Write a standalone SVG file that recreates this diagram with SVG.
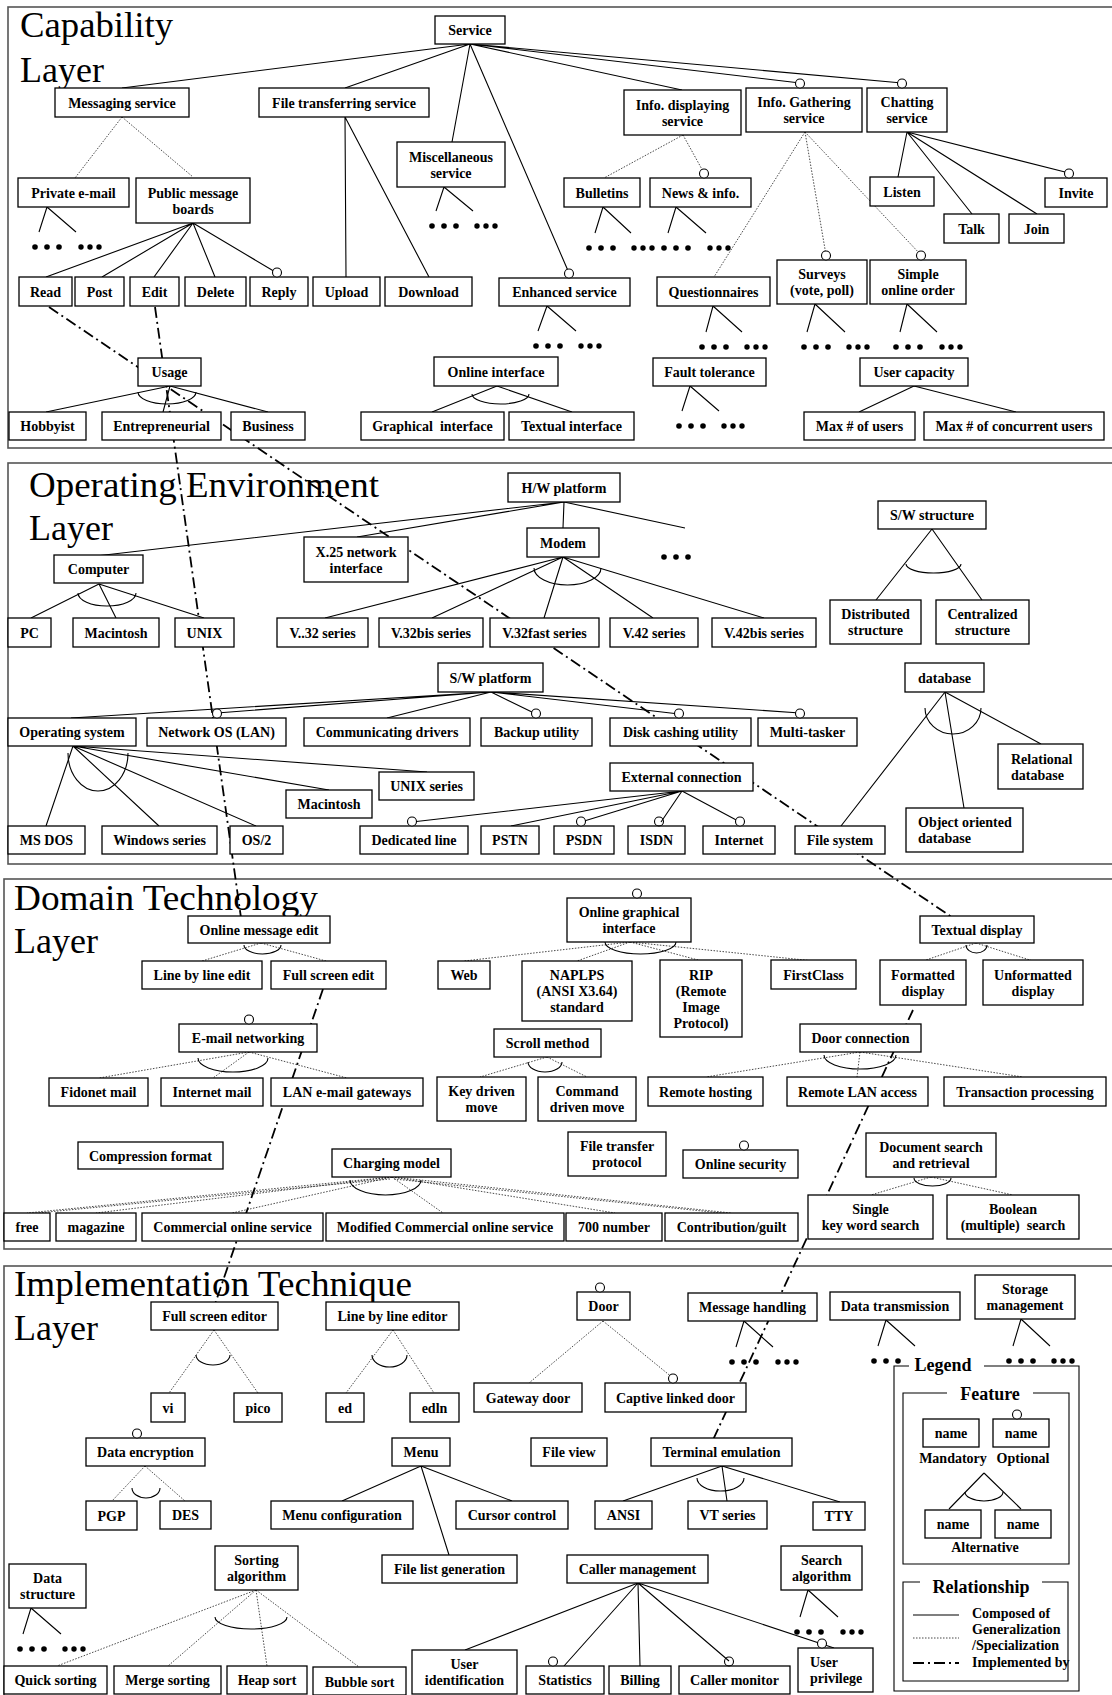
<svg xmlns="http://www.w3.org/2000/svg" width="1112" height="1695" viewBox="0 0 1112 1695">
<style>
.f{fill:none;stroke:#555;stroke-width:1.6}
.b{fill:#fff;stroke:#000;stroke-width:1.3}
text{font-family:"Liberation Serif","Times New Roman",serif;font-weight:bold;font-size:14px;text-anchor:middle;fill:#000}
.t{font-weight:normal;font-size:36px;text-anchor:start}
.l{text-anchor:start}
.h{font-size:18px}
.s{stroke:#000;stroke-width:1.1;fill:none}
.d{stroke:#333;stroke-width:0.9;stroke-dasharray:1.5 1.5;fill:none}
.i{stroke:#000;stroke-width:1.8;stroke-dasharray:11 4 2 4;fill:none}
.a{stroke:#000;stroke-width:1.1;fill:none}
.o{fill:#fff;stroke:#000;stroke-width:1.1}
.x{fill:none;stroke:#000;stroke-width:1.1}
</style>
<defs>
<g id="d1"><circle cx="0" cy="0" r="2.8"/><circle cx="12" cy="0" r="2.8"/><circle cx="24" cy="0" r="2.8"/></g>
<g id="d2"><circle cx="0" cy="0" r="2.7"/><circle cx="9" cy="0" r="2.7"/><circle cx="18" cy="0" r="2.7"/></g>
</defs>
<rect width="1112" height="1695" fill="#fff"/>

<g id="frames">
<rect class="f" x="8" y="7" width="1110" height="441"/>
<rect class="f" x="8" y="463" width="1110" height="401"/>
<rect class="f" x="4" y="879" width="1114" height="370"/>
<rect class="f" x="4" y="1266" width="1114" height="440"/>
<text class="t" x="20" y="37" textLength="153" lengthAdjust="spacingAndGlyphs">Capability</text>
<text class="t" x="20" y="82">Layer</text>
<text class="t" x="29" y="497" textLength="350" lengthAdjust="spacingAndGlyphs">Operating Environment</text>
<text class="t" x="29" y="540">Layer</text>
<text class="t" x="14" y="910" textLength="304" lengthAdjust="spacingAndGlyphs">Domain Technology</text>
<text class="t" x="14" y="953">Layer</text>
<text class="t" x="14" y="1296" textLength="398" lengthAdjust="spacingAndGlyphs">Implementation Technique</text>
<text class="t" x="14" y="1340">Layer</text>
</g>

<g id="connectors">
<!-- capability solid -->
<path class="s" d="M470,44L122,88M470,44L345,88M470,44L452,142M470,44L569,273M470,44L682,90M470,44L800,83M470,44L902,83"/>
<path class="s" d="M193,223L46,277M193,223L102,277M193,223L154,277M193,223L215,277M193,223L277,273"/>
<path class="s" d="M345,117L346,277M345,117L429,277"/>
<path class="s" d="M907,132L898,177M907,132L972,214M907,132L1037,214M907,132L1069,173"/>
<path class="s" d="M170,386L46,412M170,386L163,412M170,386L268,412"/>
<path class="s" d="M497,386L432,412M497,386L572,412"/>
<path class="s" d="M914,386L859,412M914,386L1016,412"/>
<path class="s" d="M47,207L39,232M47,207L76,232M444,187L436,211M444,187L473,211M547,306L538,331M547,306L576,331M603,207L595,233M603,207L631,233M676,207L668,233M676,207L706,233M713,306L706,332M713,306L742,332M815,304L807,332M815,304L845,332M907,304L900,332M907,304L937,332M690,386L682,411M690,386L719,411"/>
<!-- capability dotted -->
<path class="d" d="M122,117L75,178M122,117L193,177"/>
<path class="d" d="M683,135L604,178M683,135L704,173"/>
<path class="d" d="M805,132L714,277M805,132L826,255M805,132L921,255"/>
<!-- arcs capability -->
<path class="a" d="M138,392A29,12 0 0 0 196,392"/>
<path class="a" d="M472,394A28.5,10 0 0 0 529,394"/>
<!-- OE -->
<path class="s" d="M564,502L96,556M564,502L357,537M564,502L563,528M564,502L685,528"/>
<path class="s" d="M563,557L325,618M563,557L432,618M563,557L544,618M563,557L653,618M563,557L764,618"/>
<path class="s" d="M99,584L31,618M99,584L116,618M99,584L204,618"/>
<path class="s" d="M932,529L876,600M932,529L982,600"/>
<path class="s" d="M945,692L841,826M945,692L964,808M945,692L1041,744"/>
<path class="s" d="M491,692L71,718M491,692L217,713M491,692L387,718M491,692L536,714M491,692L679,714M491,692L800,713"/>
<path class="s" d="M73,746L46,826M73,746L159,826M73,746L256,826M73,746L329,790M73,746L427,772"/>
<path class="s" d="M682,791L412,822M682,791L511,826M682,791L581,822M682,791L661,822M682,791L740,822"/>
<path class="a" d="M78,593A29,13 0 0 0 136,593"/>
<path class="a" d="M534,568A33.5,17 0 0 0 601,568"/>
<path class="a" d="M906,564A27.5,9 0 0 0 961,564"/>
<path class="a" d="M925,708A28,26 0 0 0 981,708"/>
<path class="a" d="M68,753A30,38 0 0 0 128,753"/>
<!-- Domain -->
<path class="d" d="M261,943L202,961M261,943L326,961"/>
<path class="d" d="M249,1052L99,1078M249,1052L213,1078M249,1052L347,1078"/>
<path class="d" d="M392,1177L27,1213M392,1177L96,1213M392,1177L232,1213M392,1177L443,1213M392,1177L615,1213M392,1177L731,1213M390,1179L27,1214M394,1179L731,1214"/>
<path class="d" d="M630,942L464,961M630,942L577,961M630,942L702,961M630,942L814,961"/>
<path class="d" d="M976,943L923,961M976,943L1033,961"/>
<path class="d" d="M547,1057L480,1077M547,1057L587,1077"/>
<path class="d" d="M860,1052L706,1077M860,1052L857,1077M860,1052L1023,1077"/>
<path class="d" d="M931,1177L871,1195M931,1177L1013,1195"/>
<path class="a" d="M244,945A18.5,9 0 0 0 281,945"/>
<path class="a" d="M198,1058A35,14 0 0 0 268,1058"/>
<path class="a" d="M350,1180A35.5,15 0 0 0 421,1180"/>
<path class="a" d="M605,942A35.5,12 0 0 0 676,942"/>
<path class="a" d="M966,945A10.5,8 0 0 0 987,945"/>
<path class="a" d="M528,1062A17,10 0 0 0 562,1062"/>
<path class="a" d="M824,1055A36,14 0 0 0 896,1055"/>
<path class="a" d="M914,1178A18.5,8 0 0 0 951,1178"/>
<!-- Implementation -->
<path class="d" d="M214,1330L169,1393M214,1330L258,1393"/>
<path class="d" d="M393,1330L346,1393M393,1330L434,1393"/>
<path class="d" d="M145,1466L112,1501M145,1466L185,1501"/>
<path class="s" d="M421,1466L342,1501M421,1466L449,1555M421,1466L512,1501"/>
<path class="d" d="M603,1321L529,1383M603,1321L673,1378"/>
<path class="s" d="M722,1466L623,1501M722,1466L727,1501M722,1466L840,1502"/>
<path class="d" d="M256,1590L57,1666M256,1590L168,1666M256,1590L267,1666M256,1590L359,1667"/>
<path class="s" d="M638,1583L465,1650M638,1583L564,1666M638,1583L640,1666M638,1583L729,1661M638,1583L834,1648"/>
<path class="s" d="M744,1321L736,1347M744,1321L773,1347M886,1320L878,1346M886,1320L915,1346M1021,1319L1013,1346M1021,1319L1050,1346M808,1590L800,1617M808,1590L838,1617M31,1608L23,1634M31,1608L61,1634"/>
<path class="a" d="M196,1355A17,10 0 0 0 230,1355"/>
<path class="a" d="M372,1355A17.5,12 0 0 0 407,1355"/>
<path class="a" d="M132,1488A14,10 0 0 0 160,1488"/>
<path class="a" d="M697,1478A23.5,13 0 0 0 744,1478"/>
<path class="a" d="M215,1617A36,12 0 0 0 287,1617"/>
<!-- implemented by -->
<path class="i" d="M49,307L959,922"/>
<path class="i" d="M155,307L243,932"/>
<path class="i" d="M323,989L214,1307"/>
<path class="i" d="M913,1010L712,1442"/>
</g>

<g id="dots">
<use href="#d1" x="35" y="247"/><use href="#d2" x="81" y="247"/>
<use href="#d1" x="432" y="226"/><use href="#d2" x="477" y="226"/>
<use href="#d1" x="536" y="346"/><use href="#d2" x="581" y="346"/>
<use href="#d1" x="589" y="248"/><use href="#d2" x="634" y="248"/>
<use href="#d1" x="664" y="248"/><use href="#d2" x="710" y="248"/>
<use href="#d1" x="702" y="347"/><use href="#d2" x="747" y="347"/>
<use href="#d1" x="804" y="347"/><use href="#d2" x="849" y="347"/>
<use href="#d1" x="896" y="347"/><use href="#d2" x="942" y="347"/>
<use href="#d1" x="679" y="426"/><use href="#d2" x="724" y="426"/>
<use href="#d1" x="664" y="557"/>
<use href="#d1" x="732" y="1362"/><use href="#d2" x="778" y="1362"/>
<use href="#d1" x="874" y="1361"/>
<use href="#d1" x="1009" y="1361"/><use href="#d2" x="1054" y="1361"/>
<use href="#d1" x="797" y="1632"/><use href="#d2" x="843" y="1632"/>
<use href="#d1" x="20" y="1649"/><use href="#d2" x="65" y="1649"/>
</g>

<!-- Capability nodes -->
<g id="service"><rect class="b" x="435" y="16" width="70" height="28"/><text x="470" y="35">Service</text></g>
<g id="messaging"><rect class="b" x="55" y="88" width="134" height="29"/><text x="122" y="107.5">Messaging service</text></g>
<g id="filetransferring"><rect class="b" x="259" y="88" width="170" height="29"/><text x="344" y="107.5">File transferring service</text></g>
<g id="misc"><rect class="b" x="397" y="142" width="108" height="45"/><text x="451" y="161.5">Miscellaneous</text><text x="451" y="177.5">service</text></g>
<g id="infodisplay"><rect class="b" x="624" y="90" width="117" height="45"/><text x="682.5" y="109.5">Info. displaying</text><text x="682.5" y="125.5">service</text></g>
<g id="infogather"><rect class="b" x="746" y="88" width="116" height="44"/><text x="804" y="107">Info. Gathering</text><text x="804" y="123">service</text><circle class="o" cx="800" cy="83.5" r="4.5"/></g>
<g id="chatting"><rect class="b" x="867" y="88" width="80" height="44"/><text x="907" y="107">Chatting</text><text x="907" y="123">service</text><circle class="o" cx="902" cy="83.5" r="4.5"/></g>
<g id="privatemail"><rect class="b" x="18" y="178" width="111" height="29"/><text x="73.5" y="197.5">Private e-mail</text></g>
<g id="publicboards"><rect class="b" x="136" y="178" width="114" height="45"/><text x="193" y="197.5">Public message</text><text x="193" y="213.5">boards</text></g>
<g id="bulletins"><rect class="b" x="564" y="178" width="76" height="29"/><text x="602" y="197.5">Bulletins</text></g>
<g id="news"><rect class="b" x="650" y="178" width="101" height="29"/><text x="700.5" y="197.5">News &amp; info.</text><circle class="o" cx="704" cy="173.5" r="4.5"/></g>
<g id="listen"><rect class="b" x="870" y="177" width="64" height="29"/><text x="902" y="196.5">Listen</text></g>
<g id="invite"><rect class="b" x="1045" y="178" width="62" height="29"/><text x="1076" y="197.5">Invite</text><circle class="o" cx="1069" cy="173.5" r="4.5"/></g>
<g id="talk"><rect class="b" x="944" y="214" width="55" height="29"/><text x="971.5" y="233.5">Talk</text></g>
<g id="join"><rect class="b" x="1009" y="214" width="55" height="29"/><text x="1036.5" y="233.5">Join</text></g>
<g id="read"><rect class="b" x="19" y="277" width="53" height="29"/><text x="45.5" y="296.5">Read</text></g>
<g id="post"><rect class="b" x="75" y="277" width="49" height="29"/><text x="99.5" y="296.5">Post</text></g>
<g id="edit"><rect class="b" x="130" y="277" width="49" height="29"/><text x="154.5" y="296.5">Edit</text></g>
<g id="delete"><rect class="b" x="185" y="277" width="61" height="29"/><text x="215.5" y="296.5">Delete</text></g>
<g id="reply"><rect class="b" x="250" y="277" width="58" height="29"/><text x="279" y="296.5">Reply</text><circle class="o" cx="277" cy="272.5" r="4.5"/></g>
<g id="upload"><rect class="b" x="313" y="277" width="67" height="29"/><text x="346.5" y="296.5">Upload</text></g>
<g id="download"><rect class="b" x="385" y="277" width="87" height="29"/><text x="428.5" y="296.5">Download</text></g>
<g id="enhanced"><rect class="b" x="499" y="278" width="131" height="28"/><text x="564.5" y="297">Enhanced service</text><circle class="o" cx="569" cy="273.5" r="4.5"/></g>
<g id="questionnaires"><rect class="b" x="657" y="277" width="113" height="29"/><text x="713.5" y="296.5">Questionnaires</text></g>
<g id="surveys"><rect class="b" x="777" y="260" width="90" height="44"/><text x="822" y="279">Surveys</text><text x="822" y="295">(vote, poll)</text><circle class="o" cx="826" cy="255.5" r="4.5"/></g>
<g id="simpleorder"><rect class="b" x="870" y="260" width="96" height="44"/><text x="918" y="279">Simple</text><text x="918" y="295">online order</text><circle class="o" cx="921" cy="255.5" r="4.5"/></g>
<g id="usage"><rect class="b" x="138" y="358" width="63" height="28"/><text x="169.5" y="377">Usage</text></g>
<g id="onlineinterface"><rect class="b" x="434" y="357" width="124" height="29"/><text x="496" y="376.5">Online interface</text></g>
<g id="faulttolerance"><rect class="b" x="653" y="358" width="113" height="28"/><text x="709.5" y="377">Fault tolerance</text></g>
<g id="usercapacity"><rect class="b" x="860" y="358" width="108" height="28"/><text x="914" y="377">User capacity</text></g>
<g id="hobbyist"><rect class="b" x="9" y="412" width="77" height="28"/><text x="47.5" y="431">Hobbyist</text></g>
<g id="entrepreneurial"><rect class="b" x="102" y="412" width="119" height="28"/><text x="161.5" y="431">Entrepreneurial</text></g>
<g id="business"><rect class="b" x="231" y="412" width="74" height="28"/><text x="268" y="431">Business</text></g>
<g id="graphicalinterface"><rect class="b" x="361" y="412" width="143" height="28"/><text x="432.5" y="431" xml:space="preserve">Graphical  interface</text></g>
<g id="textualinterface"><rect class="b" x="509" y="412" width="125" height="28"/><text x="571.5" y="431">Textual interface</text></g>
<g id="maxusers"><rect class="b" x="804" y="412" width="111" height="28"/><text x="859.5" y="431">Max # of users</text></g>
<g id="maxconcurrent"><rect class="b" x="924" y="412" width="180" height="28"/><text x="1014" y="431">Max # of concurrent users</text></g>

<!-- Operating environment nodes -->
<g id="hwplatform"><rect class="b" x="508" y="473" width="112" height="29"/><text x="564" y="492.5">H/W platform</text></g>
<g id="x25"><rect class="b" x="304" y="537" width="104" height="45"/><text x="356" y="556.5">X.25 network</text><text x="356" y="572.5">interface</text></g>
<g id="modem"><rect class="b" x="527" y="528" width="72" height="29"/><text x="563" y="547.5">Modem</text></g>
<g id="computer"><rect class="b" x="54" y="555" width="89" height="28"/><text x="98.5" y="574">Computer</text></g>
<g id="swstructure"><rect class="b" x="878" y="501" width="108" height="28"/><text x="932" y="520">S/W structure</text></g>
<g id="pc"><rect class="b" x="8" y="618" width="43" height="29"/><text x="29.5" y="637.5">PC</text></g>
<g id="macintosh1"><rect class="b" x="73" y="618" width="86" height="29"/><text x="116" y="637.5">Macintosh</text></g>
<g id="unix"><rect class="b" x="175" y="618" width="59" height="29"/><text x="204.5" y="637.5">UNIX</text></g>
<g id="v32"><rect class="b" x="277" y="618" width="91" height="29"/><text x="322.5" y="637.5">V..32 series</text></g>
<g id="v32bis"><rect class="b" x="379" y="618" width="104" height="29"/><text x="431" y="637.5">V.32bis series</text></g>
<g id="v32fast"><rect class="b" x="490" y="618" width="109" height="29"/><text x="544.5" y="637.5">V.32fast series</text></g>
<g id="v42"><rect class="b" x="610" y="618" width="88" height="29"/><text x="654" y="637.5">V.42 series</text></g>
<g id="v42bis"><rect class="b" x="712" y="618" width="104" height="29"/><text x="764" y="637.5">V.42bis series</text></g>
<g id="distributed"><rect class="b" x="830" y="600" width="91" height="44"/><text x="875.5" y="619">Distributed</text><text x="875.5" y="635">structure</text></g>
<g id="centralized"><rect class="b" x="936" y="600" width="93" height="44"/><text x="982.5" y="619">Centralized</text><text x="982.5" y="635">structure</text></g>
<g id="swplatform"><rect class="b" x="438" y="663" width="105" height="29"/><text x="490.5" y="682.5">S/W platform</text></g>
<g id="database"><rect class="b" x="905" y="663" width="79" height="29"/><text x="944.5" y="682.5">database</text></g>
<g id="os"><rect class="b" x="8" y="718" width="128" height="28"/><text x="72" y="737">Operating system</text></g>
<g id="networkos"><rect class="b" x="147" y="718" width="139" height="28"/><text x="216.5" y="737">Network OS (LAN)</text><circle class="o" cx="217" cy="713.5" r="4.5"/></g>
<g id="commdrivers"><rect class="b" x="304" y="718" width="166" height="28"/><text x="387" y="737">Communicating drivers</text></g>
<g id="backup"><rect class="b" x="481" y="718" width="111" height="28"/><text x="536.5" y="737">Backup utility</text><circle class="o" cx="536" cy="713.5" r="4.5"/></g>
<g id="diskcash"><rect class="b" x="610" y="718" width="141" height="28"/><text x="680.5" y="737">Disk cashing utility</text><circle class="o" cx="679" cy="713.5" r="4.5"/></g>
<g id="multitasker"><rect class="b" x="758" y="718" width="99" height="28"/><text x="807.5" y="737">Multi-tasker</text><circle class="o" cx="800" cy="713.5" r="4.5"/></g>
<g id="relational"><rect class="b" x="998" y="744" width="85" height="45"/><text class="l" x="1011" y="763.5">Relational</text><text class="l" x="1011" y="779.5">database</text></g>
<g id="extconn"><rect class="b" x="610" y="763" width="143" height="28"/><text x="681.5" y="782">External connection</text></g>
<g id="unixseries"><rect class="b" x="379" y="772" width="95" height="28"/><text x="426.5" y="791">UNIX series</text></g>
<g id="macintosh2"><rect class="b" x="286" y="790" width="86" height="28"/><text x="329" y="809">Macintosh</text></g>
<g id="oodb"><rect class="b" x="906" y="808" width="117" height="44"/><text class="l" x="918" y="827">Object oriented</text><text class="l" x="918" y="843">database</text></g>
<g id="msdos"><rect class="b" x="8" y="826" width="77" height="28"/><text x="46.5" y="845">MS DOS</text></g>
<g id="windows"><rect class="b" x="102" y="826" width="115" height="28"/><text x="159.5" y="845">Windows series</text></g>
<g id="os2"><rect class="b" x="230" y="826" width="53" height="28"/><text x="256.5" y="845">OS/2</text></g>
<g id="dedicated"><rect class="b" x="360" y="826" width="108" height="28"/><text x="414" y="845">Dedicated line</text><circle class="o" cx="412" cy="821.5" r="4.5"/></g>
<g id="pstn"><rect class="b" x="481" y="826" width="58" height="28"/><text x="510" y="845">PSTN</text></g>
<g id="psdn"><rect class="b" x="554" y="826" width="60" height="28"/><text x="584" y="845">PSDN</text><circle class="o" cx="581" cy="821.5" r="4.5"/></g>
<g id="isdn"><rect class="b" x="628" y="826" width="57" height="28"/><text x="656.5" y="845">ISDN</text><circle class="x" cx="659" cy="821.5" r="4.5"/></g>
<g id="internet"><rect class="b" x="703" y="826" width="72" height="28"/><text x="739" y="845">Internet</text><circle class="o" cx="740" cy="821.5" r="4.5"/></g>
<g id="filesystem"><rect class="b" x="795" y="826" width="90" height="28"/><text x="840" y="845">File system</text></g>

<!-- Domain technology nodes -->
<g id="onlinemsgedit"><rect class="b" x="188" y="916" width="142" height="27"/><text x="259" y="934.5">Online message edit</text></g>
<g id="onlinegraphical"><rect class="b" x="567" y="898" width="124" height="44"/><text x="629" y="917">Online graphical</text><text x="629" y="933">interface</text><circle class="o" cx="637" cy="893.5" r="4.5"/></g>
<g id="textualdisplay"><rect class="b" x="920" y="916" width="114" height="27"/><text x="977" y="934.5">Textual display</text></g>
<g id="linebylineedit"><rect class="b" x="142" y="961" width="120" height="28"/><text x="202" y="980">Line by line edit</text></g>
<g id="fullscreenedit"><rect class="b" x="271" y="961" width="115" height="28"/><text x="328.5" y="980">Full screen edit</text></g>
<g id="web"><rect class="b" x="438" y="961" width="52" height="28"/><text x="464" y="980">Web</text></g>
<g id="naplps"><rect class="b" x="522" y="961" width="110" height="60"/><text x="577" y="980">NAPLPS</text><text x="577" y="996">(ANSI X3.64)</text><text x="577" y="1012">standard</text></g>
<g id="rip"><rect class="b" x="660" y="960" width="82" height="77"/><text x="701" y="979.5">RIP</text><text x="701" y="995.5">(Remote</text><text x="701" y="1011.5">Image</text><text x="701" y="1027.5">Protocol)</text></g>
<g id="firstclass"><rect class="b" x="771" y="960" width="85" height="29"/><text x="813.5" y="979.5">FirstClass</text></g>
<g id="formatted"><rect class="b" x="880" y="960" width="86" height="45"/><text x="923" y="979.5">Formatted</text><text x="923" y="995.5">display</text></g>
<g id="unformatted"><rect class="b" x="983" y="960" width="100" height="45"/><text x="1033" y="979.5">Unformatted</text><text x="1033" y="995.5">display</text></g>
<g id="emailnet"><rect class="b" x="179" y="1024" width="138" height="28"/><text x="248" y="1043">E-mail networking</text><circle class="o" cx="249" cy="1019.5" r="4.5"/></g>
<g id="scroll"><rect class="b" x="494" y="1029" width="107" height="28"/><text x="547.5" y="1048">Scroll method</text></g>
<g id="doorconn"><rect class="b" x="800" y="1024" width="121" height="28"/><text x="860.5" y="1043">Door connection</text></g>
<g id="fidonet"><rect class="b" x="49" y="1078" width="99" height="28"/><text x="98.5" y="1097">Fidonet mail</text></g>
<g id="internetmail"><rect class="b" x="161" y="1078" width="102" height="28"/><text x="212" y="1097">Internet mail</text></g>
<g id="lanemail"><rect class="b" x="271" y="1078" width="152" height="28"/><text x="347" y="1097">LAN e-mail gateways</text></g>
<g id="keydriven"><rect class="b" x="437" y="1077" width="89" height="44"/><text x="481.5" y="1096">Key driven</text><text x="481.5" y="1112">move</text></g>
<g id="commanddriven"><rect class="b" x="538" y="1077" width="98" height="44"/><text x="587" y="1096">Command</text><text x="587" y="1112">driven move</text></g>
<g id="remotehosting"><rect class="b" x="648" y="1077" width="115" height="29"/><text x="705.5" y="1096.5">Remote hosting</text></g>
<g id="remotelan"><rect class="b" x="787" y="1077" width="141" height="29"/><text x="857.5" y="1096.5">Remote LAN access</text></g>
<g id="transaction"><rect class="b" x="944" y="1077" width="162" height="29"/><text x="1025" y="1096.5">Transaction processing</text></g>
<g id="compression"><rect class="b" x="78" y="1142" width="145" height="27"/><text x="150.5" y="1160.5">Compression format</text></g>
<g id="ftprotocol"><rect class="b" x="568" y="1132" width="98" height="44"/><text x="617" y="1151">File transfer</text><text x="617" y="1167">protocol</text></g>
<g id="charging"><rect class="b" x="332" y="1149" width="119" height="28"/><text x="391.5" y="1168">Charging model</text></g>
<g id="onlinesecurity"><rect class="b" x="683" y="1150" width="115" height="28"/><text x="740.5" y="1169">Online security</text><circle class="o" cx="744" cy="1145.5" r="4.5"/></g>
<g id="docsearch"><rect class="b" x="866" y="1133" width="130" height="44"/><text x="931" y="1152">Document search</text><text x="931" y="1168">and retrieval</text></g>
<g id="free"><rect class="b" x="4" y="1213" width="46" height="28"/><text x="27" y="1232">free</text></g>
<g id="magazine"><rect class="b" x="56" y="1213" width="80" height="28"/><text x="96" y="1232">magazine</text></g>
<g id="commercial"><rect class="b" x="142" y="1213" width="181" height="28"/><text x="232.5" y="1232">Commercial online service</text></g>
<g id="modified"><rect class="b" x="326" y="1213" width="238" height="28"/><text x="445" y="1232">Modified Commercial online service</text></g>
<g id="n700"><rect class="b" x="566" y="1213" width="96" height="28"/><text x="614" y="1232">700 number</text></g>
<g id="contribution"><rect class="b" x="665" y="1213" width="133" height="28"/><text x="731.5" y="1232">Contribution/guilt</text></g>
<g id="singlekey"><rect class="b" x="808" y="1195" width="125" height="44"/><text x="870.5" y="1214">Single</text><text x="870.5" y="1230">key word search</text></g>
<g id="boolean"><rect class="b" x="947" y="1195" width="132" height="44"/><text x="1013" y="1214">Boolean</text><text x="1013" y="1230" xml:space="preserve">(multiple)  search</text></g>

<!-- Implementation technique nodes -->
<g id="fullscreeneditor"><rect class="b" x="151" y="1302" width="127" height="28"/><text x="214.5" y="1321">Full screen editor</text></g>
<g id="linebylineeditor"><rect class="b" x="326" y="1302" width="133" height="28"/><text x="392.5" y="1321">Line by line editor</text></g>
<g id="door"><rect class="b" x="577" y="1292" width="53" height="28"/><text x="603.5" y="1311">Door</text><circle class="o" cx="600" cy="1287.5" r="4.5"/></g>
<g id="msghandling"><rect class="b" x="688" y="1293" width="129" height="28"/><text x="752.5" y="1312">Message handling</text></g>
<g id="datatransmission"><rect class="b" x="830" y="1292" width="130" height="28"/><text x="895" y="1311">Data transmission</text></g>
<g id="storage"><rect class="b" x="975" y="1275" width="100" height="44"/><text x="1025" y="1294">Storage</text><text x="1025" y="1310">management</text></g>
<g id="gatewaydoor"><rect class="b" x="474" y="1383" width="108" height="29"/><text x="528" y="1402.5">Gateway door</text></g>
<g id="captivedoor"><rect class="b" x="605" y="1383" width="141" height="29"/><text x="675.5" y="1402.5">Captive linked door</text><circle class="o" cx="673" cy="1378.5" r="4.5"/></g>
<g id="vi"><rect class="b" x="151" y="1393" width="34" height="29"/><text x="168" y="1412.5">vi</text></g>
<g id="pico"><rect class="b" x="234" y="1393" width="48" height="29"/><text x="258" y="1412.5">pico</text></g>
<g id="ed"><rect class="b" x="326" y="1393" width="38" height="29"/><text x="345" y="1412.5">ed</text></g>
<g id="edln"><rect class="b" x="410" y="1393" width="49" height="29"/><text x="434.5" y="1412.5">edln</text></g>
<g id="dataenc"><rect class="b" x="86" y="1438" width="119" height="28"/><text x="145.5" y="1457">Data encryption</text><circle class="o" cx="137" cy="1433.5" r="4.5"/></g>
<g id="menu"><rect class="b" x="392" y="1438" width="58" height="28"/><text x="421" y="1457">Menu</text></g>
<g id="fileview"><rect class="b" x="531" y="1438" width="76" height="28"/><text x="569" y="1457">File view</text></g>
<g id="terminal"><rect class="b" x="651" y="1438" width="141" height="28"/><text x="721.5" y="1457">Terminal emulation</text></g>
<g id="pgp"><rect class="b" x="86" y="1501" width="51" height="29"/><text x="111.5" y="1520.5">PGP</text></g>
<g id="des"><rect class="b" x="160" y="1501" width="51" height="28"/><text x="185.5" y="1520">DES</text></g>
<g id="menuconf"><rect class="b" x="271" y="1501" width="142" height="28"/><text x="342" y="1520">Menu configuration</text></g>
<g id="cursor"><rect class="b" x="456" y="1501" width="112" height="28"/><text x="512" y="1520">Cursor control</text></g>
<g id="ansi"><rect class="b" x="595" y="1501" width="57" height="28"/><text x="623.5" y="1520">ANSI</text></g>
<g id="vt"><rect class="b" x="688" y="1501" width="79" height="28"/><text x="727.5" y="1520">VT series</text></g>
<g id="tty"><rect class="b" x="813" y="1502" width="52" height="28"/><text x="839" y="1521">TTY</text></g>
<g id="sorting"><rect class="b" x="215" y="1546" width="83" height="44"/><text x="256.5" y="1565">Sorting</text><text x="256.5" y="1581">algorithm</text></g>
<g id="filelist"><rect class="b" x="382" y="1555" width="135" height="28"/><text x="449.5" y="1574">File list generation</text></g>
<g id="callermgmt"><rect class="b" x="567" y="1555" width="141" height="28"/><text x="637.5" y="1574">Caller management</text></g>
<g id="searchalg"><rect class="b" x="781" y="1546" width="81" height="44"/><text x="821.5" y="1565">Search</text><text x="821.5" y="1581">algorithm</text></g>
<g id="datastructure"><rect class="b" x="9" y="1564" width="77" height="44"/><text x="47.5" y="1583">Data</text><text x="47.5" y="1599">structure</text></g>
<g id="userid"><rect class="b" x="412" y="1650" width="105" height="44"/><text x="464.5" y="1669">User</text><text x="464.5" y="1685">identification</text></g>
<g id="userpriv"><rect class="b" x="798" y="1648" width="75" height="44"/><text class="l" x="810" y="1667">User</text><text class="l" x="810" y="1683">privilege</text><circle class="o" cx="822" cy="1643.5" r="4.5"/></g>
<g id="quicksort"><rect class="b" x="4" y="1666" width="103" height="28"/><text x="55.5" y="1685">Quick sorting</text></g>
<g id="mergesort"><rect class="b" x="114" y="1666" width="107" height="28"/><text x="167.5" y="1685">Merge sorting</text></g>
<g id="heapsort"><rect class="b" x="227" y="1666" width="80" height="28"/><text x="267" y="1685">Heap sort</text></g>
<g id="bubblesort"><rect class="b" x="313" y="1667" width="93" height="28"/><text x="359.5" y="1687">Bubble sort</text></g>
<g id="statistics"><rect class="b" x="526" y="1666" width="78" height="28"/><text x="565" y="1685">Statistics</text><circle class="o" cx="553" cy="1661.5" r="4.5"/></g>
<g id="billing"><rect class="b" x="609" y="1666" width="62" height="28"/><text x="640" y="1685">Billing</text></g>
<g id="callermonitor"><rect class="b" x="679" y="1666" width="111" height="28"/><text x="734.5" y="1685">Caller monitor</text><circle class="x" cx="729" cy="1661.5" r="4.5"/></g>

<!-- Legend -->
<g id="legend">
<path class="s" d="M909,1366H894V1691H1079V1366H984"/>
<text class="h" x="943" y="1371">Legend</text>
<path class="s" d="M947,1393H903V1564H1069V1393H1033"/>
<text class="h" x="990" y="1400">Feature</text>
<rect class="b" x="923" y="1419" width="56" height="28"/><text x="951" y="1438">name</text>
<rect class="b" x="993" y="1419" width="56" height="28"/><text x="1021" y="1438">name</text>
<circle class="o" cx="1017" cy="1414.5" r="4.5"/>
<text x="953" y="1463">Mandatory</text>
<text x="1023" y="1463">Optional</text>
<path class="s" d="M984,1473L949,1509M984,1473L1021,1509"/>
<path class="a" d="M965,1492A19,9 0 0 0 1003,1492"/>
<rect class="b" x="925" y="1510" width="56" height="28"/><text x="953" y="1529">name</text>
<rect class="b" x="995" y="1510" width="56" height="28"/><text x="1023" y="1529">name</text>
<text x="985" y="1552">Alternative</text>
<path class="s" d="M920,1582H903V1681H1068V1582H1042"/>
<text class="h" x="981" y="1593">Relationship</text>
<path class="s" d="M913,1615H959"/>
<text class="l" x="972" y="1618">Composed of</text>
<path class="d" d="M913,1638H959"/>
<text class="l" x="972" y="1634">Generalization</text>
<text class="l" x="972" y="1650">/Specialization</text>
<path class="i" d="M913,1663H959"/>
<text class="l" x="972" y="1667">Implemented by</text>
</g>
</svg>
